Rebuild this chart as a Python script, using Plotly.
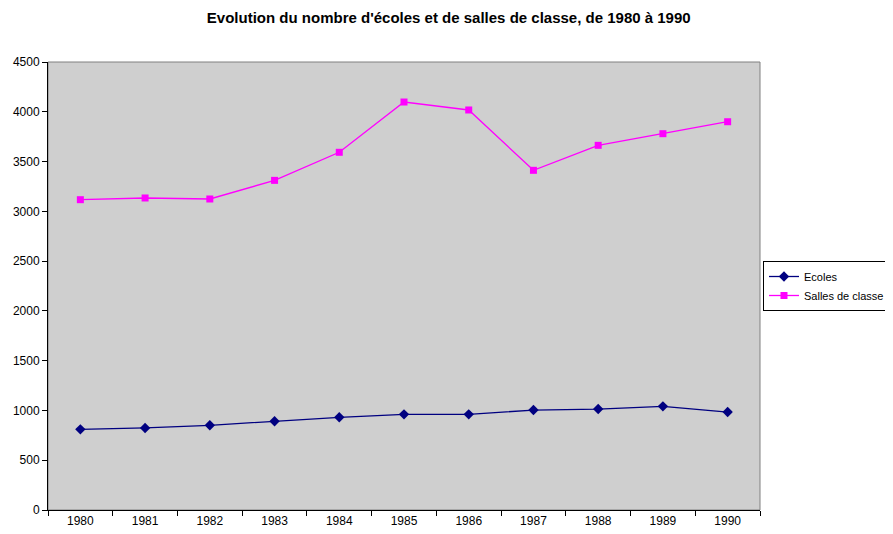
import plotly.graph_objects as go

# Données
annees = ["1980", "1981", "1982", "1983", "1984", "1985", "1986", "1987", "1988", "1989", "1990"]
ecoles = [810, 824, 851, 891, 931, 961, 961, 1004, 1014, 1041, 984]
salles = [3117, 3134, 3124, 3311, 3593, 4098, 4018, 3412, 3663, 3780, 3900]

fig = go.Figure()
fig.add_trace(go.Scatter(
    x=annees, y=ecoles, name="Ecoles", mode="lines+markers",
    line={"color": "#000080", "width": 1.3},
    marker={"symbol": "diamond", "size": 8, "color": "#000080"}
))
fig.add_trace(go.Scatter(
    x=annees, y=salles, name="Salles de classe", mode="lines+markers",
    line={"color": "#FF00FF", "width": 1.3},
    marker={"symbol": "square", "size": 7, "color": "#FF00FF"}
))

# cadre gris du plot area (haut et droite)
fig.add_shape(type="rect", xref="paper", yref="paper", x0=0, y0=0, x1=1, y1=1,
              line={"color": "#808080", "width": 1}, layer="below")

# la page html a une marge de 8px -> figure un peu plus petite
fig.update_layout(
    width=885, height=526,
    margin={"l": 40, "r": 133, "t": 54, "b": 24, "autoexpand": False},
    paper_bgcolor="white", plot_bgcolor="#CFCFCF",
    font={"family": "Liberation Sans, Arial", "size": 11, "color": "black"},
    title={"text": "<b>Evolution du nombre d'écoles et de salles de classe, de 1980 à 1990</b>",
           "x": 0.498, "xanchor": "center", "xref": "container",
           "y": 0.981, "yanchor": "middle", "yref": "container",
           "font": {"size": 15}},
    showlegend=True,
    legend={"x": 1.0042, "xanchor": "left", "y": 0.5, "yanchor": "middle",
            "bordercolor": "black", "borderwidth": 1, "bgcolor": "white",
            "font": {"size": 11}, "tracegroupgap": 0, "itemwidth": 30},
)
fig.update_xaxes(type="category", showgrid=False, showline=True, linecolor="black", linewidth=1,
                 ticks="outside", tickson="boundaries", ticklen=5, tickcolor="black",
                 tickfont={"size": 12}, range=[-0.5, 10.5], automargin=False)
fig.update_yaxes(range=[0, 4500], dtick=500, showgrid=False, showline=True, linecolor="black",
                 linewidth=1, ticks="outside", ticklen=5, tickcolor="black", zeroline=False,
                 tickfont={"size": 12}, automargin=False)

fig.write_html("out.html")
